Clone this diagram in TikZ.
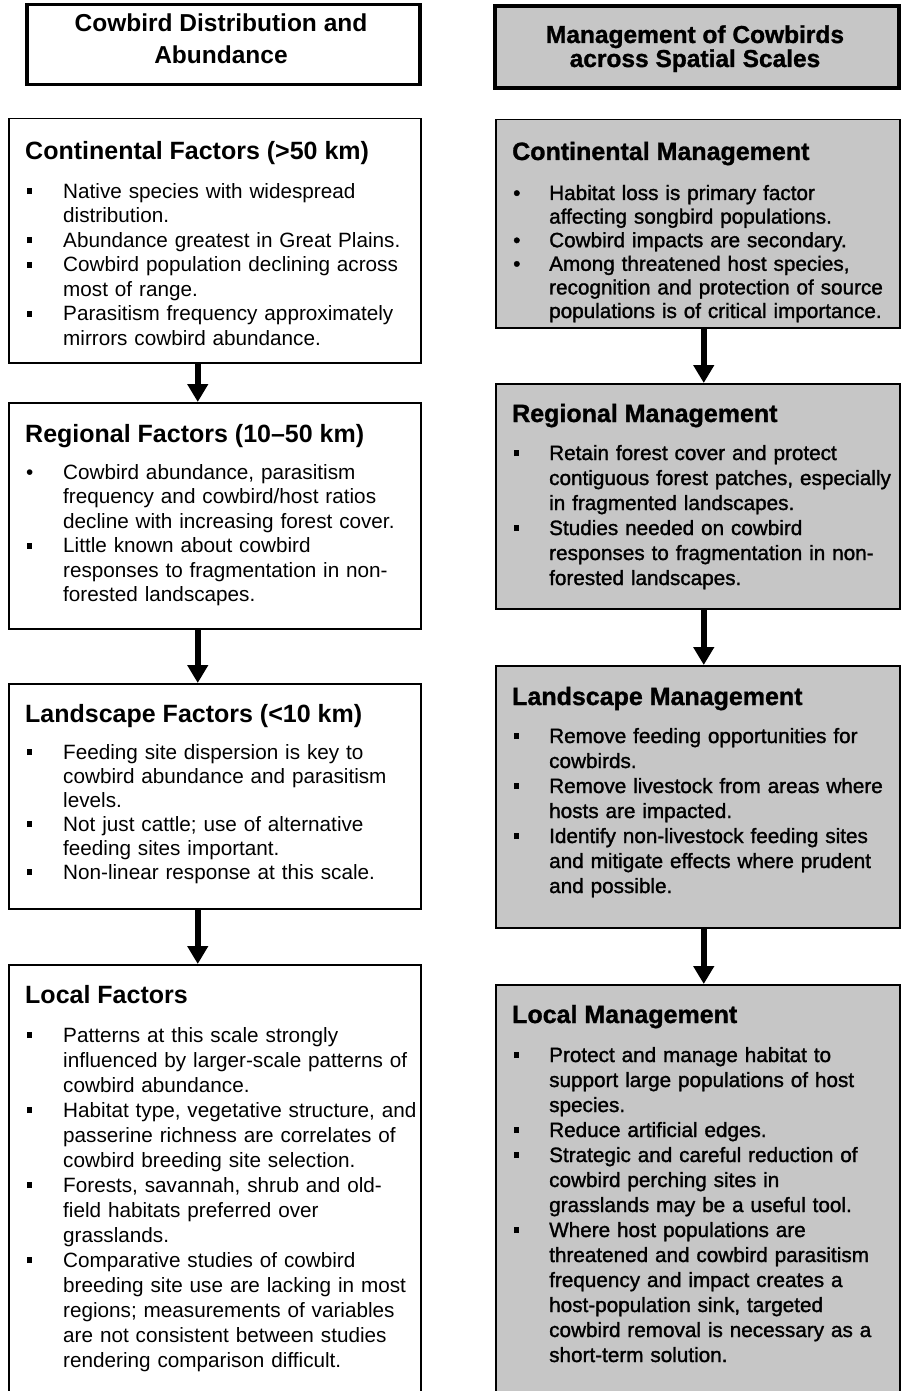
\documentclass[tikz,border=0pt]{standalone}
\usepackage{fontspec}
\setmainfont{Liberation Sans}
\newfontfamily\rbf[FakeBold=1.4]{Liberation Sans}
\newfontfamily\rbh[FakeBold=1.2]{Liberation Sans Bold}
\usetikzlibrary{arrows.meta}
\definecolor{halftone}{RGB}{198,198,198}
\newlength\itmw
\newcommand\sqb{\hspace{2pt}\raisebox{4pt}{\rule{5pt}{6pt}}}
\newcommand\rdb{\hspace{1pt}•}
\newcommand\itm[2]{\hangindent=\itmw\hangafter=1\noindent\makebox[\itmw][l]{#1}#2\par}
\newcommand\nl{\newline}
\tikzset{
  frame/.style={draw=black, line width=1.5pt, anchor=north west, inner sep=0pt},
  lbox/.style={frame, fill=white},
  rbox/.style={frame, fill=halftone},
  ltitle/.style={frame, line width=3.5pt, fill=white},
  rtitle/.style={frame, line width=4pt, fill=halftone},
  ttext/.style={anchor=base, inner sep=0pt, font=\bfseries\fontsize{24.5}{30}\selectfont},
  rttext/.style={anchor=base, inner sep=0pt, font=\rbh\fontsize{24.5}{30}\selectfont},
  head/.style={anchor=base west, inner sep=0pt, font=\bfseries\fontsize{25}{30}\selectfont},
  rhead/.style={anchor=base west, inner sep=0pt, font=\rbh\fontsize{25}{30}\selectfont},
  litems/.style={anchor=base west, inner sep=0pt, text width=420pt, align=left,
     font=\fontsize{20.7}{#1}\selectfont,
     execute at begin node={\setlength\itmw{38pt}\parskip=0pt}},
  ritems/.style={anchor=base west, inner sep=0pt, text width=380pt, align=left,
     font=\rbf\fontsize{20.7}{#1}\selectfont,
     execute at begin node={\setlength\itmw{37pt}\parskip=0pt}},
  arr/.style={line width=6pt, -{Triangle[width=20pt,length=18pt]}},
}
\begin{document}
\begin{tikzpicture}[x=1pt,y=-1pt]
\useasboundingbox (0,0) rectangle (901,1391);
\clip (0,0) rectangle (901,1391);

% ---------- left column ----------
\node[ltitle, minimum width=393pt, minimum height=80pt] (tl) at (25,3) {};
\node[ttext] (tl1) at (221,32) {Cowbird Distribution and};
\node[ttext] (tl2) at (221,64) {Abundance};

\node[lbox, minimum width=412pt, minimum height=244pt] (c) at (8,118) {};
\node[head] (ch) at (25,160) {Continental Factors (>50 km)};
\node[litems=24.5pt] (ci) at (25,198) {%
\itm{\sqb}{Native species with widespread\nl distribution.}%
\itm{\sqb}{Abundance greatest in Great Plains.}%
\itm{\sqb}{Cowbird population declining across\nl most of range.}%
\itm{\sqb}{Parasitism frequency approximately\nl mirrors cowbird abundance.}};

\node[lbox, minimum width=412pt, minimum height=226pt] (r) at (8,402) {};
\node[head] (rh) at (25,442) {Regional Factors (10–50 km)};
\node[litems=24.5pt] (ri) at (25,479) {%
\itm{\hspace{1pt}•}{Cowbird abundance, parasitism\nl frequency and cowbird/host ratios\nl decline with increasing forest cover.}%
\itm{\sqb}{Little known about cowbird\nl responses to fragmentation in non-\nl forested landscapes.}};

\node[lbox, minimum width=412pt, minimum height=225pt] (l) at (8,683) {};
\node[head] (lh) at (25,722) {Landscape Factors (<10 km)};
\node[litems=24pt] (li) at (25,759) {%
\itm{\sqb}{Feeding site dispersion is key to\nl cowbird abundance and parasitism\nl levels.}%
\itm{\sqb}{Not just cattle; use of alternative\nl feeding sites important.}%
\itm{\sqb}{Non-linear response at this scale.}};

\node[lbox, minimum width=412pt, minimum height=436pt] (lo) at (8,964) {};
\node[head] (loh) at (25,1003) {Local Factors};
\node[litems=25pt] (loi) at (25,1042) {%
\itm{\sqb}{Patterns at this scale strongly\nl influenced by larger-scale patterns of\nl cowbird abundance.}%
\itm{\sqb}{Habitat type, vegetative structure, and\nl passerine richness are correlates of\nl cowbird breeding site selection.}%
\itm{\sqb}{Forests, savannah, shrub and old-\nl field habitats preferred over\nl grasslands.}%
\itm{\sqb}{Comparative studies of cowbird\nl breeding site use are lacking in most\nl regions; measurements of variables\nl are not consistent between studies\nl rendering comparison difficult.}};

\draw[arr] ([xshift=-17pt]c.south) -- ([xshift=-17pt]r.north);
\draw[arr] ([xshift=-17pt]r.south) -- ([xshift=-17pt]l.north);
\draw[arr] ([xshift=-17pt]l.south) -- ([xshift=-17pt]lo.north);

% ---------- right column ----------
\node[rtitle, minimum width=404pt, minimum height=82pt] (tr) at (493,4) {};
\node[rttext] (tr1) at (695,43) {Management of Cowbirds};
\node[rttext] (tr2) at (695,67) {across Spatial Scales};

\node[rbox, minimum width=404pt, minimum height=208pt] (cm) at (495,119) {};
\node[rhead] (cmh) at (512,160) {Continental Management};
\node[ritems=23.6pt] (cmi) at (512,200) {%
\itm{\rdb}{Habitat loss is primary factor\nl affecting songbird populations.}%
\itm{\rdb}{Cowbird impacts are secondary.}%
\itm{\rdb}{Among threatened host species,\nl recognition and protection of source\nl populations is of critical importance.}};

\node[rbox, minimum width=404pt, minimum height=225pt] (rm) at (495,383) {};
\node[rhead] (rmh) at (512,422) {Regional Management};
\node[ritems=25pt] (rmi) at (512,460) {%
\itm{\sqb}{Retain forest cover and protect\nl contiguous forest patches, especially\nl in fragmented landscapes.}%
\itm{\sqb}{Studies needed on cowbird\nl responses to fragmentation in non-\nl forested landscapes.}};

\node[rbox, minimum width=404pt, minimum height=262pt] (lm) at (495,665) {};
\node[rhead] (lmh) at (512,705) {Landscape Management};
\node[ritems=25pt] (lmi) at (512,743) {%
\itm{\sqb}{Remove feeding opportunities for\nl cowbirds.}%
\itm{\sqb}{Remove livestock from areas where\nl hosts are impacted.}%
\itm{\sqb}{Identify non-livestock feeding sites\nl and mitigate effects where prudent\nl and possible.}};

\node[rbox, minimum width=404pt, minimum height=416pt] (lom) at (495,984) {};
\node[rhead] (lomh) at (512,1023) {Local Management};
\node[ritems=25pt] (lomi) at (512,1062) {%
\itm{\sqb}{Protect and manage habitat to\nl support large populations of host\nl species.}%
\itm{\sqb}{Reduce artificial edges.}%
\itm{\sqb}{Strategic and careful reduction of\nl cowbird perching sites in\nl grasslands may be a useful tool.}%
\itm{\sqb}{Where host populations are\nl threatened and cowbird parasitism\nl frequency and impact creates a\nl host-population sink, targeted\nl cowbird removal is necessary as a\nl short-term solution.}};

\draw[arr] ([xshift=6pt]cm.south) -- ([xshift=6pt]rm.north);
\draw[arr] ([xshift=6pt]rm.south) -- ([xshift=6pt]lm.north);
\draw[arr] ([xshift=6pt]lm.south) -- ([xshift=6pt]lom.north);
\end{tikzpicture}
\end{document}
